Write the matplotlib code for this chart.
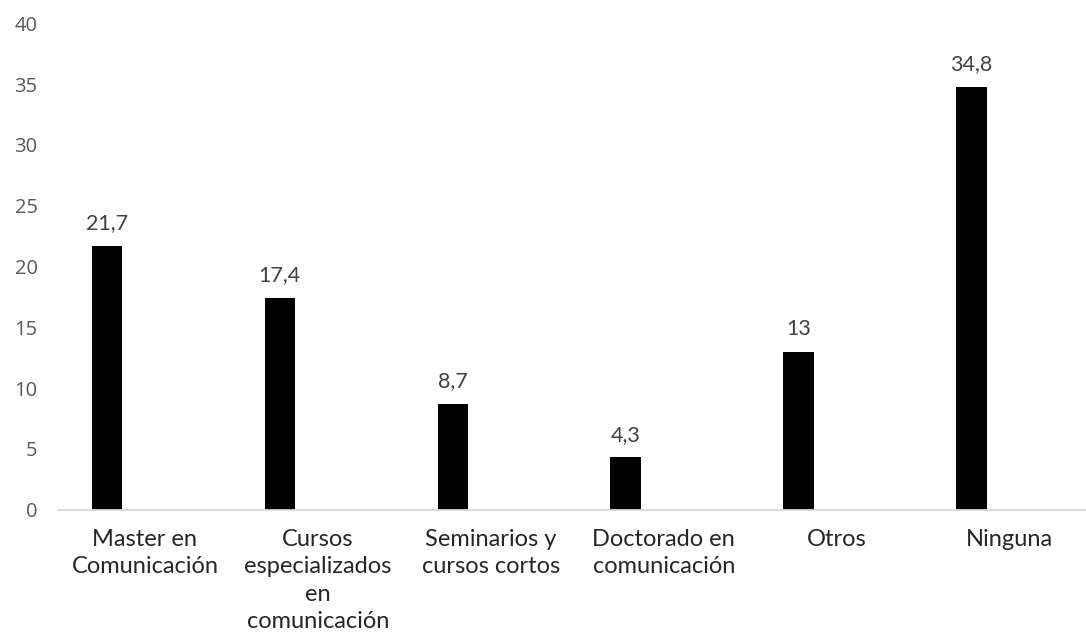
import matplotlib
matplotlib.use("Agg")
import matplotlib.pyplot as plt
import numpy as np

categories = [
    "Master en\nComunicación",
    "Cursos\nespecializados\nen\ncomunicación",
    "Seminarios y\ncursos cortos",
    "Doctorado en\ncomunicación",
    "Otros",
    "Ninguna",
]
values = [21.7, 17.4, 8.7, 4.3, 13, 34.8]
value_labels = ["21,7", "17,4", "8,7", "4,3", "13", "34,8"]
y_ticks = [0, 5, 10, 15, 20, 25, 30, 35, 40]

W, H = 1086, 633
fig = plt.figure(figsize=(W / 100, H / 100), dpi=100)

# plot area in pixels: x 58.5 .. 1096 (runs past the right edge), y 23.5 .. 509.5
left, right, top, bottom = 58.5, 1096.0, 23.5, 509.5
ax = fig.add_axes([left / W, 1 - bottom / H, (right - left) / W, (bottom - top) / H])

x = np.arange(len(categories))
bar_w = 0.176
bar_off = -0.22
bars = ax.bar(x + bar_off, values, width=bar_w, color="black", zorder=3)

label_font = "Lato"
for xi, v, lab in zip(x, values, value_labels):
    ax.annotate(lab, (xi + bar_off, v), xytext=(0, 9), textcoords="offset points",
                ha="center", va="bottom", fontsize=15.5, color="#404040",
                family=label_font)

ax.set_xlim(-0.5, len(categories) - 0.5)
ax.set_ylim(0, 40)
ax.set_yticks(y_ticks)
ax.set_yticklabels([str(t) for t in y_ticks], family="Open Sans", fontsize=14.5,
                   color="#595959")
ax.set_xticks(x)
ax.set_xticklabels(categories, family=label_font, fontsize=17, color="#262626",
                   linespacing=1.38, va="top")

ax.tick_params(axis="y", length=0, pad=15)
ax.tick_params(axis="x", length=0, pad=14)

for s in ["top", "right", "left"]:
    ax.spines[s].set_visible(False)
ax.spines["bottom"].set_color("#d9d9d9")
ax.spines["bottom"].set_linewidth(1.3)
ax.spines["bottom"].set_zorder(4)

fig.savefig("out.png", dpi=100)
